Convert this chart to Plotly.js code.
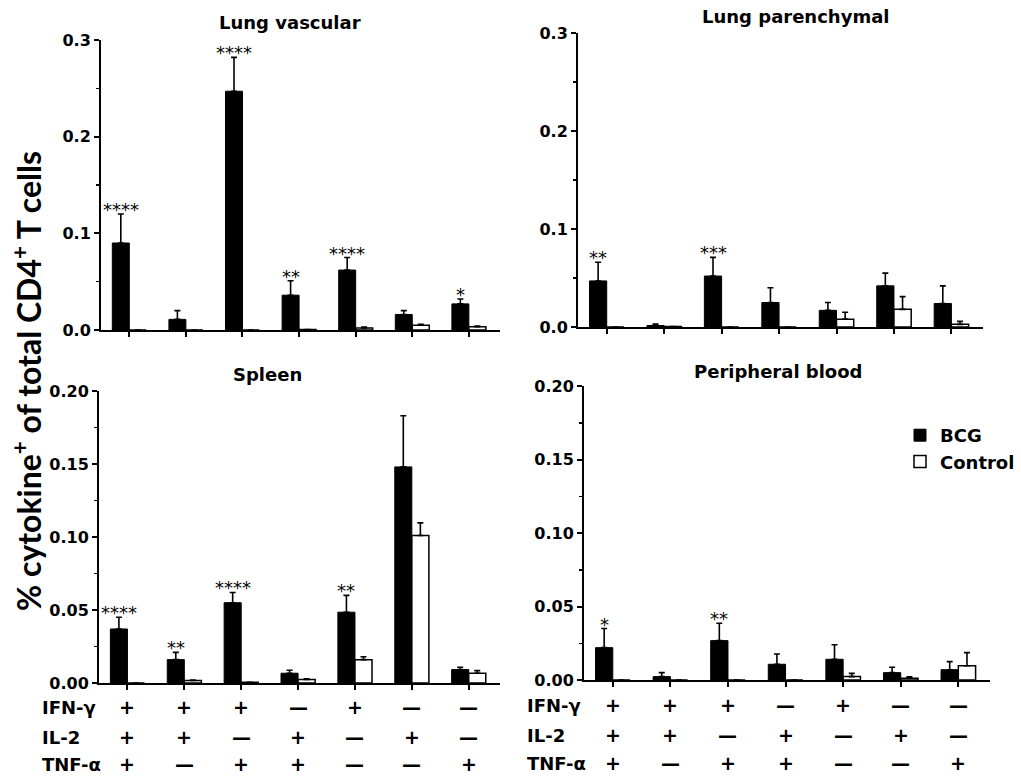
<!DOCTYPE html>
<html>
<head>
<meta charset="utf-8">
<script src="https://cdn.plot.ly/plotly-3.0.1.min.js"></script>
<style>html,body{margin:0;padding:0;background:#fff;}#chart{width:1021px;height:782px;}</style>
</head>
<body>
<div id="chart"></div>
<script>
// ---- data ----
const ifnRow = ["+", "+", "+", "—", "+", "—", "—"];
const il2Row = ["+", "+", "—", "+", "—", "+", "—"];
const tnfRow = ["+", "—", "+", "+", "—", "—", "+"];
const categories = ["IFN+IL2+TNF+", "IFN+IL2+TNF-", "IFN+IL2-TNF+", "IFN-IL2+TNF+", "IFN+IL2-TNF-", "IFN-IL2+TNF-", "IFN-IL2-TNF+"];
const rowLabels = ["IFN-γ", "IL-2", "TNF-α"];
const panelTitles = ["Lung vascular", "Lung parenchymal", "Spleen", "Peripheral blood"];
const seriesNames = ["BCG", "Control"];

// Lung vascular
const lvBCG = [0.090, 0.011, 0.247, 0.036, 0.062, 0.016, 0.027];
const lvBCGErr = [0.030, 0.009, 0.035, 0.015, 0.013, 0.004, 0.005];
const lvCtrl = [0, 0, 0, 0.0005, 0.002, 0.005, 0.0034];
const lvCtrlErr = [0, 0, 0, 0, 0.001, 0.0008, 0.0008];
const lvStars = ["****", "", "****", "**", "****", "", "*"];

// Lung parenchymal
const lpBCG = [0.047, 0.0015, 0.052, 0.025, 0.017, 0.042, 0.024];
const lpBCGErr = [0.019, 0.0015, 0.019, 0.015, 0.008, 0.013, 0.018];
const lpCtrl = [0, 0.0005, 0, 0, 0.008, 0.018, 0.0027];
const lpCtrlErr = [0, 0, 0, 0, 0.007, 0.013, 0.003];
const lpStars = ["**", "", "***", "", "", "", ""];

// Spleen
const spBCG = [0.037, 0.016, 0.055, 0.0067, 0.0485, 0.148, 0.0092];
const spBCGErr = [0.008, 0.005, 0.007, 0.002, 0.0115, 0.035, 0.0016];
const spCtrl = [0, 0.0017, 0.0005, 0.0024, 0.016, 0.101, 0.0067];
const spCtrlErr = [0, 0.0003, 0, 0.0005, 0.002, 0.0087, 0.0018];
const spStars = ["****", "**", "****", "", "**", "", ""];

// Peripheral blood
const pbBCG = [0.022, 0.0023, 0.0268, 0.0107, 0.0141, 0.005, 0.007];
const pbBCGErr = [0.013, 0.0027, 0.0118, 0.007, 0.0099, 0.0037, 0.0055];
const pbCtrl = [0, 0, 0, 0, 0.0023, 0.0012, 0.0097];
const pbCtrlErr = [0, 0, 0, 0, 0.0022, 0.001, 0.0089];
const pbStars = ["*", "", "**", "", "", "", ""];

const yMax = [0.3, 0.3, 0.2, 0.2];
const yDtick = [0.1, 0.1, 0.05, 0.05];
const yFormat = [".1f", ".1f", ".2f", ".2f"];

// ---- build ----
const W = 1021, H = 782;
const px = v => v / W;
const py = v => 1 - v / H;
const panels = [
  {bcg: lvBCG, be: lvBCGErr, c: lvCtrl, ce: lvCtrlErr, stars: lvStars, dom: [101, 500, 40, 330]},
  {bcg: lpBCG, be: lpBCGErr, c: lpCtrl, ce: lpCtrlErr, stars: lpStars, dom: [578, 983, 33, 327]},
  {bcg: spBCG, be: spBCGErr, c: spCtrl, ce: spCtrlErr, stars: spStars, dom: [99, 500, 391, 683]},
  {bcg: pbBCG, be: pbBCGErr, c: pbCtrl, ce: pbCtrlErr, stars: pbStars, dom: [584, 990, 386, 680]}
];
const titlePos = [[290, 22], [795, 16], [267, 374], [778, 371]];

const FONT = 'DejaVu Sans';
const traces = [];
const layout = {
  width: W, height: H,
  margin: {l: 0, r: 0, t: 0, b: 0},
  paper_bgcolor: '#fff', plot_bgcolor: 'rgba(0,0,0,0)',
  barmode: 'group', bargap: 0.4, bargroupgap: 0,
  showlegend: true,
  legend: {x: px(900), y: py(417), xanchor: 'left', yanchor: 'top',
           font: {family: FONT, size: 18, color: '#000', weight: 700},
           bgcolor: 'rgba(0,0,0,0)', tracegroupgap: 0, itemwidth: 30},
  annotations: []
};
const zeros = n => new Array(n).fill(0);

panels.forEach((p, i) => {
  const s = i === 0 ? '' : String(i + 1);
  const xa = 'x' + s, ya = 'y' + s;
  traces.push({
    type: 'bar', name: seriesNames[0], x: categories, y: p.bcg, xaxis: xa, yaxis: ya,
    marker: {color: '#000', line: {color: '#000', width: 1}},
    error_y: {type: 'data', symmetric: false, array: p.be, arrayminus: zeros(p.be.length), color: '#000', thickness: 1.6, width: 3},
    showlegend: i === 3, legendgroup: 'bcg', hoverinfo: 'skip'
  });
  traces.push({
    type: 'bar', name: seriesNames[1], x: categories, y: p.c, xaxis: xa, yaxis: ya,
    marker: {color: '#fff', line: {color: '#000', width: 1.5}},
    error_y: {type: 'data', symmetric: false, array: p.ce, arrayminus: zeros(p.ce.length), color: '#000', thickness: 1.6, width: 3},
    showlegend: i === 3, legendgroup: 'ctrl', hoverinfo: 'skip'
  });
  const [x0, x1, y0, y1] = p.dom;
  layout['xaxis' + s] = {
    domain: [px(x0), px(x1)], anchor: ya, type: 'category', range: [-0.5, 6.55],
    showline: true, linewidth: 2, linecolor: '#000', ticks: 'outside', ticklen: 5, tickwidth: 2, tickcolor: '#000',
    showticklabels: false, showgrid: false, zeroline: false, fixedrange: true
  };
  layout['yaxis' + s] = {
    domain: [py(y1), py(y0)], anchor: xa, range: [0, yMax[i]], dtick: yDtick[i], tick0: 0, tickformat: yFormat[i],
    showline: true, linewidth: 2, linecolor: '#000', ticks: 'outside', ticklen: 5, tickwidth: 2, tickcolor: '#000',
    minor: {dtick: yDtick[i] / 2, ticks: 'outside', ticklen: 3, tickwidth: 1.5, tickcolor: '#000'},
    tickfont: {family: FONT, size: 16, color: '#000', weight: 700},
    showgrid: false, zeroline: false, fixedrange: true
  };
  // panel title
  layout.annotations.push({
    text: panelTitles[i], xref: 'paper', yref: 'paper', x: px(titlePos[i][0]), y: py(titlePos[i][1]),
    xanchor: 'center', yanchor: 'middle', showarrow: false,
    font: {family: FONT, size: 18, color: '#000', weight: 700}
  });
  // significance stars
  p.stars.forEach((st, k) => {
    if (!st) return;
    layout.annotations.push({
      text: st, xref: xa, yref: ya, x: categories[k], y: p.bcg[k] + p.be[k],
      xanchor: 'center', yanchor: 'bottom', xshift: -8.5, yshift: -8, showarrow: false,
      font: {family: FONT, size: 18, color: '#000'}
    });
  });
  // combination rows under bottom panels
  if (i >= 2) {
    const rows = [ifnRow, il2Row, tnfRow];
    const rowY = i === 2 ? [707, 737, 764] : [705, 735, 763];
    const labX = i === 2 ? 40 : 525;
    rows.forEach((row, r) => {
      layout.annotations.push({
        text: rowLabels[r], xref: 'paper', yref: 'paper', x: px(labX), y: py(rowY[r]),
        xanchor: 'left', yanchor: 'middle', showarrow: false,
        font: {family: FONT, size: 18, color: '#000', weight: 700}
      });
      row.forEach((sym, k) => {
        layout.annotations.push({
          text: sym, xref: xa, yref: 'paper', x: categories[k], y: py(rowY[r]),
          xanchor: 'center', yanchor: 'middle', showarrow: false,
          font: {family: FONT, size: 19, color: '#000', weight: 900}
        });
      });
    });
  }
});

// y-axis title
layout.annotations.push({
  text: '% cytokine<sup>+</sup> of total CD4<sup>+</sup> T cells', xref: 'paper', yref: 'paper',
  x: px(27), y: py(381), xanchor: 'center', yanchor: 'middle', textangle: -90, showarrow: false,
  font: {family: 'Lato', size: 32, color: '#000', weight: 700}
});

Plotly.newPlot('chart', traces, layout, {displayModeBar: false, staticPlot: true});
</script>
</body>
</html>
